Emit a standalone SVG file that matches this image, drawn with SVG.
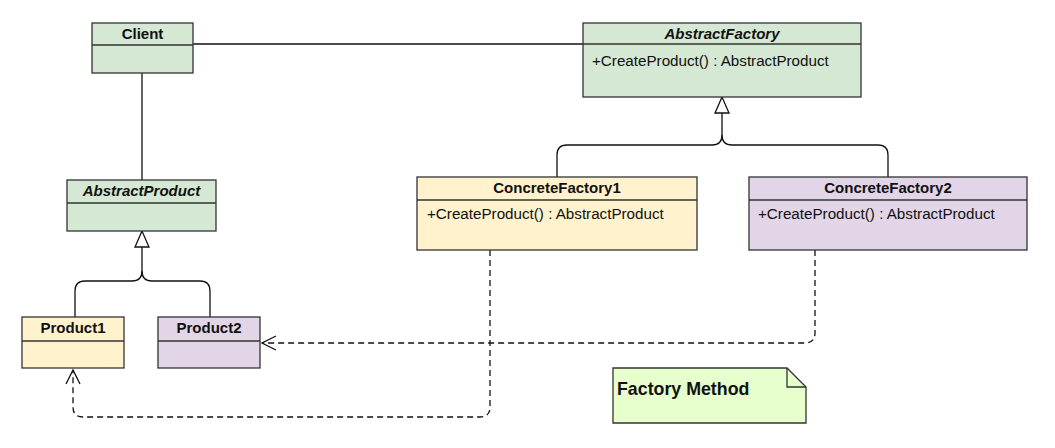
<svg xmlns="http://www.w3.org/2000/svg" width="1055" height="448" viewBox="0 0 1055 448">
<style>
.box{stroke:#333;stroke-width:1.3}
.g{fill:#d5e8d4}.y{fill:#fff2cc}.p{fill:#e1d5e7}
.div{stroke:#333;stroke-width:1.3;fill:none}
.name{font-family:"Liberation Sans",Arial,sans-serif;font-size:15px;font-weight:bold;fill:#111;text-anchor:middle}
.it{font-style:italic}
.m{font-family:"Liberation Sans",Arial,sans-serif;font-size:15.2px;fill:#111}
.ln{stroke:#111;stroke-width:1.3;fill:none}
.ds{stroke:#111;stroke-width:1.3;fill:none;stroke-dasharray:6 4}
</style>
<rect width="1055" height="448" fill="#fff"/>
<g id="connectors">
<path class="ln" d="M193,44 H583"/>
<path class="ln" d="M142,73 V180"/>
<path class="ln" d="M142,247 V271 Q142,281 132,281 H85 Q75,281 75,291 V317"/>
<path class="ln" d="M142,271 Q142,281 152,281 H200 Q210,281 210,291 V317"/>
<path class="ln" d="M142,231 L135,247 H149 Z" fill="#fff"/>
<path class="ln" d="M722,113 V135 Q722,145 712,145 H567 Q557,145 557,155 V177"/>
<path class="ln" d="M722,135 Q722,145 732,145 H878 Q888,145 888,155 V177"/>
<path class="ln" d="M722,97 L715,113 H729 Z" fill="#fff"/>
<path class="ds" d="M490,250 V407 Q490,417 480,417 H83 Q73,417 73,407 V370"/>
<path class="ln" d="M66,384 L73,370 L80,384"/>
<path class="ds" d="M815,250 V333 Q815,343 805,343 H262"/>
<path class="ln" d="M276,336 L262,343 L276,350"/>
</g>
<g id="Client">
<rect class="box g" x="92" y="23" width="101" height="50"/>
<path class="div" d="M92,45 H193"/>
<text class="name" x="142.5" y="39">Client</text>
</g>
<g id="AbstractFactory">
<rect class="box g" x="583" y="23" width="278" height="74"/>
<path class="div" d="M583,44 H861"/>
<text class="name it" x="722" y="39">AbstractFactory</text>
<text class="m" x="592" y="66">+CreateProduct() : AbstractProduct</text>
</g>
<g id="AbstractProduct">
<rect class="box g" x="67" y="180" width="149" height="51"/>
<path class="div" d="M67,203 H216"/>
<text class="name it" x="141.5" y="196">AbstractProduct</text>
</g>
<g id="ConcreteFactory1">
<rect class="box y" x="417" y="177" width="280" height="73"/>
<path class="div" d="M417,200 H697"/>
<text class="name" x="557" y="193">ConcreteFactory1</text>
<text class="m" x="427" y="219">+CreateProduct() : AbstractProduct</text>
</g>
<g id="ConcreteFactory2">
<rect class="box p" x="749" y="177" width="278" height="73"/>
<path class="div" d="M749,200 H1027"/>
<text class="name" x="888" y="193">ConcreteFactory2</text>
<text class="m" x="758" y="219">+CreateProduct() : AbstractProduct</text>
</g>
<g id="Product1">
<rect class="box y" x="22" y="317" width="102" height="51"/>
<path class="div" d="M22,341 H124"/>
<text class="name" x="73" y="333">Product1</text>
</g>
<g id="Product2">
<rect class="box p" x="158" y="317" width="102" height="51"/>
<path class="div" d="M158,341 H260"/>
<text class="name" x="209" y="333">Product2</text>
</g>
<g id="FactoryMethodNote">
<path class="box" fill="#e6ffcc" d="M613,368 H787 L806,387 V423 H613 Z"/>
<path class="div" d="M787,368 V387 H806"/>
<text x="617" y="395" font-family="Liberation Sans,Arial,sans-serif" font-size="17.8" font-weight="bold" fill="#111">Factory Method</text>
</g>
</svg>
